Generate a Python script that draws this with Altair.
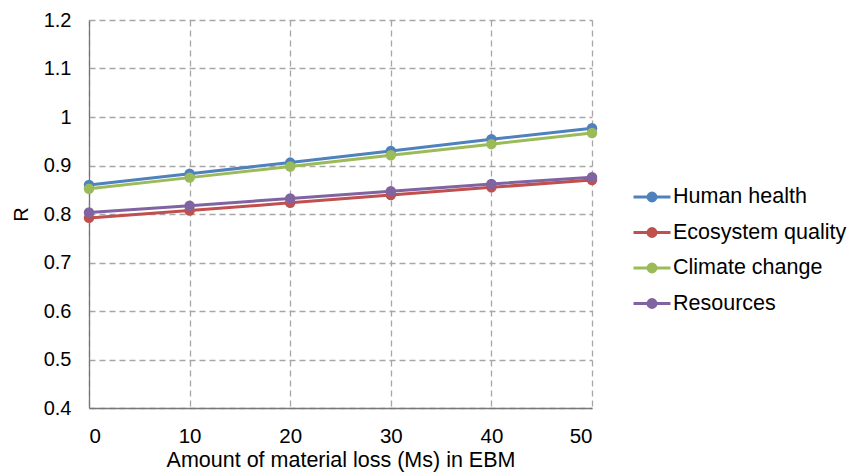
import altair as alt
import pandas as pd

x_vals = [0, 10, 20, 30, 40, 50]
series_names = ["Human health", "Ecosystem quality", "Climate change", "Resources"]
human_health = [0.860, 0.883, 0.906, 0.930, 0.954, 0.977]
ecosystem_quality = [0.792, 0.807, 0.823, 0.839, 0.855, 0.870]
climate_change = [0.852, 0.875, 0.898, 0.921, 0.944, 0.967]
resources = [0.803, 0.817, 0.832, 0.847, 0.862, 0.876]
colors = ["#4F81BD", "#C0504D", "#9BBB59", "#8064A2"]
y_ticks = [0.4, 0.5, 0.6, 0.7, 0.8, 0.9, 1.0, 1.1, 1.2]

rows = []
for name, vals in zip(series_names, [human_health, ecosystem_quality, climate_change, resources]):
    for xv, yv in zip(x_vals, vals):
        rows.append({"x": xv, "R": yv, "series": name})
df = pd.DataFrame(rows)

FONT = "Liberation Sans"


def circ(r):
    return f"M{-r},0A{r},{r} 0 1,0 {r},0A{r},{r} 0 1,0 {-r},0Z"


legend_path = "M-2,0H2" + circ(0.43) + circ(0.25) + circ(0.08)

chart = alt.Chart(df).mark_line(
    strokeWidth=3,
    point=alt.OverlayMarkDef(filled=True, size=110, opacity=1),
).encode(
    x=alt.X("x:Q",
            scale=alt.Scale(domain=[0, 50], nice=False),
            axis=alt.Axis(values=x_vals, title="Amount of material loss (Ms) in EBM",
                          ticks=False, labelPadding=18, titlePadding=3,
                          labelFontSize=20.5, titleFontSize=21.5)),
    y=alt.Y("R:Q",
            scale=alt.Scale(domain=[0.4, 1.2], nice=False, zero=False),
            axis=alt.Axis(values=y_ticks, format=".1~f", title="R",
                          ticks=False, labelPadding=18, titlePadding=12)),
    color=alt.Color("series:N",
                    scale=alt.Scale(domain=series_names, range=colors),
                    legend=alt.Legend(
                        title=None, orient="none", legendX=552, legendY=166,
                        symbolType=legend_path, symbolSize=342, symbolStrokeWidth=3,
                        labelFontSize=21.5, labelFont=FONT, labelColor="#000000",
                        labelOffset=10, rowPadding=13.5, padding=0, labelLimit=0,
                    )),
    order=alt.Order("x:Q"),
).properties(
    width=503, height=388,
    background="white",
    autosize=alt.AutoSizeParams(type="none"),
    padding={"left": 89, "top": 20, "right": 269, "bottom": 65},
).configure_view(
    stroke=None
).configure_axis(
    labelFont=FONT, titleFont=FONT, labelFontSize=20, titleFontSize=20,
    labelColor="#000000", titleColor="#000000", titleFontWeight="normal",
    domainColor="#777777", domainWidth=1.3,
    gridColor="#A6A6A6", gridDash=[6, 4], gridWidth=1.3,
)

chart.save("out.html", embed_options={"renderer": "svg", "actions": False})
